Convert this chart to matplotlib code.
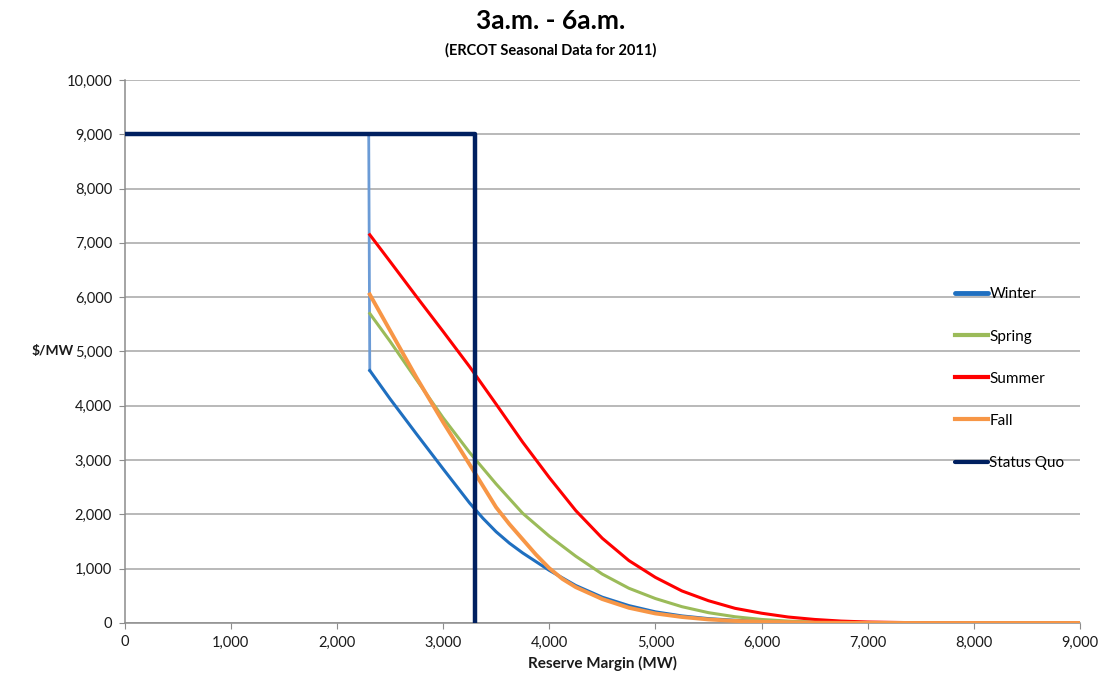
import numpy as np
import matplotlib
matplotlib.use("Agg")
import matplotlib.pyplot as plt
from matplotlib.ticker import FuncFormatter, MultipleLocator

plt.rcParams['font.family'] = ['Lato', 'DejaVu Sans']

# reserve margin (MW) and price ($/MW)
winter_x = [2300, 2310, 2500, 2750, 3000, 3250, 3375, 3500, 3625, 3750, 4000, 4250, 4500,
            4750, 5000, 5250, 5500, 5750, 6000, 6500, 7000, 7500, 9000]
winter_y = [9000, 4650, 4130, 3480, 2840, 2210, 1930, 1680, 1470, 1290, 970, 690, 475,
            320, 205, 130, 80, 50, 28, 8, 2, 0, 0]

spring_x = [2310, 2500, 2750, 3000, 3250, 3500, 3750, 4000, 4250, 4500, 4750, 5000,
            5250, 5500, 5750, 6000, 6250, 6500, 7000, 7500, 9000]
spring_y = [5700, 5190, 4480, 3780, 3140, 2560, 2020, 1600, 1230, 900, 640, 450,
            300, 190, 115, 65, 35, 18, 4, 0, 0]

summer_x = [2310, 2500, 2750, 3000, 3250, 3500, 3750, 4000, 4250, 4500, 4750, 5000,
            5250, 5500, 5750, 6000, 6250, 6500, 6750, 7000, 7500, 8000, 9000]
summer_y = [7150, 6660, 6010, 5370, 4720, 4030, 3330, 2680, 2070, 1560, 1150, 840,
            590, 410, 270, 180, 110, 65, 35, 18, 4, 0, 0]

fall_x = [2310, 2500, 2750, 3000, 3250, 3500, 3625, 3750, 3875, 4000, 4125, 4250, 4500,
          4750, 5000, 5250, 5500, 5750, 6000, 6500, 7000, 7500, 9000]
fall_y = [6050, 5390, 4520, 3700, 2920, 2130, 1820, 1540, 1260, 1010, 810, 660, 440,
          280, 175, 110, 65, 38, 22, 6, 1, 0, 0]

status_quo_x = [0, 3300, 3300]
status_quo_y = [9000, 9000, 0]

fig = plt.figure(figsize=(11.01, 6.79), dpi=100)
ax = fig.add_axes([0.1131, 0.0825, 0.981 - 0.1131, 0.8822 - 0.0825])

ax.plot(winter_x[:2], winter_y[:2], color='#6b9bd6', linewidth=2, zorder=3)
ax.plot(winter_x[1:], winter_y[1:], color='#1f6fc0', linewidth=2.2, zorder=3)
ax.plot(spring_x, spring_y, color='#9bbb59', linewidth=2.2, zorder=3)
ax.plot(summer_x, summer_y, color='#ff0000', linewidth=2.2, zorder=3)
ax.plot(fall_x, fall_y, color='#f79646', linewidth=2.8, zorder=4)
ax.plot(status_quo_x, status_quo_y, color='#002060', linewidth=3.2, zorder=5)

# legend handles
ax.plot([], [], color='#1f6fc0', linewidth=3.5, solid_capstyle='round', label='Winter')
ax.plot([], [], color='#9bbb59', linewidth=3, label='Spring')
ax.plot([], [], color='#ff0000', linewidth=3, label='Summer')
ax.plot([], [], color='#f79646', linewidth=3, label='Fall')
ax.plot([], [], color='#002060', linewidth=3, solid_capstyle='round', label='Status Quo')
handles, labels = ax.get_legend_handles_labels()
ax.legend(handles[-5:], labels[-5:], loc='upper left', bbox_to_anchor=(0.869, 0.618),
          frameon=False, fontsize=11, labelspacing=1.84, handlelength=2.15,
          handletextpad=0.1, borderaxespad=0, borderpad=0)

ax.set_xlim(0, 9000)
ax.set_ylim(0, 10000)
ax.xaxis.set_major_locator(MultipleLocator(1000))
ax.yaxis.set_major_locator(MultipleLocator(1000))
fmt = FuncFormatter(lambda v, p: f'{int(v):,}')
ax.xaxis.set_major_formatter(fmt)
ax.yaxis.set_major_formatter(fmt)
ax.grid(axis='y', color='#a6a6a6', linewidth=1.1)
ax.set_axisbelow(True)
for s in ['top', 'right']:
    ax.spines[s].set_visible(False)
for s in ['left', 'bottom']:
    ax.spines[s].set_color('#8c8c8c')
    ax.spines[s].set_linewidth(1.1)
ax.tick_params(axis='both', direction='out', length=4, color='#8c8c8c',
               labelsize=10.5, labelcolor='#1a1a1a', pad=5)

ax.set_xlabel('Reserve Margin (MW)', fontsize=11, fontweight='bold', color='#1a1a1a', labelpad=5)
ax.set_ylabel('$/MW', fontsize=10, fontweight='bold', color='#1a1a1a', rotation=0, labelpad=0)
ax.yaxis.set_label_coords(-0.075, 0.49)

fig.text(0.5, 0.969, '3a.m. - 6a.m.', ha='center', va='center', fontsize=19, fontweight='bold')
fig.text(0.5, 0.926, '(ERCOT Seasonal Data for 2011)', ha='center', va='center', fontsize=10.5, fontweight='bold')

fig.savefig('out.png', dpi=100)
